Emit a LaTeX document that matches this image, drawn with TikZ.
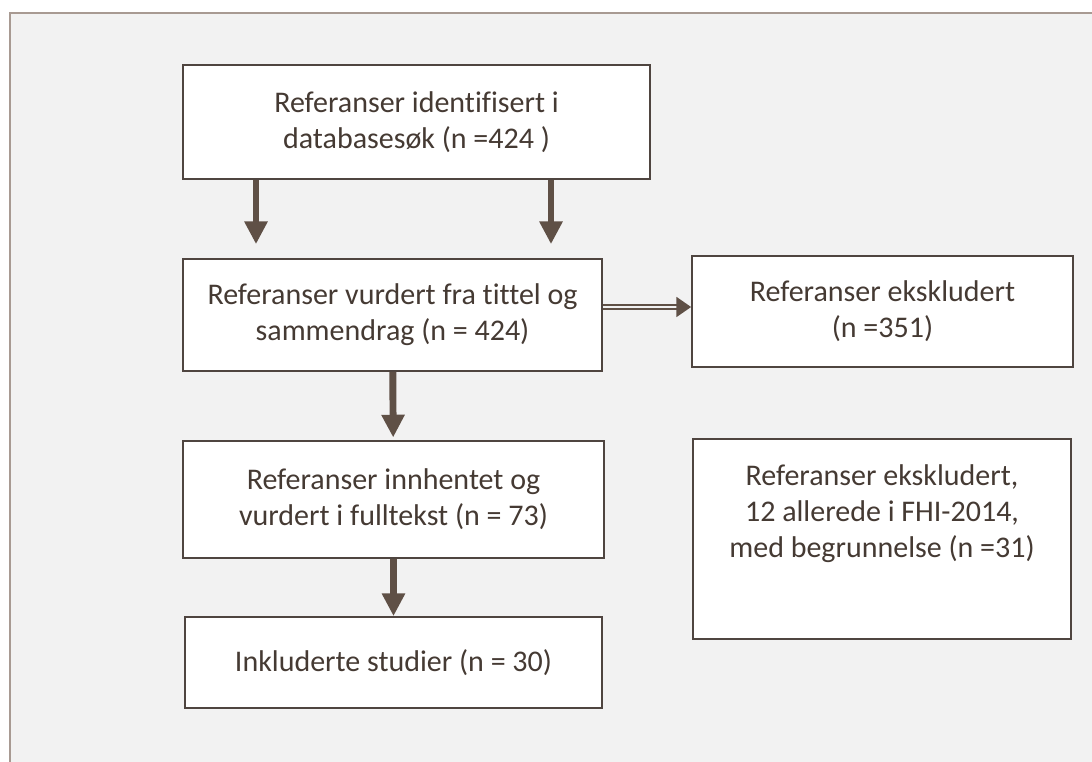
\documentclass[tikz,border=0pt]{standalone}
\usepackage{fontspec}
\setmainfont{Carlito}[Ligatures=NoCommon]
\usetikzlibrary{arrows.meta,positioning}

\definecolor{ramme}{HTML}{A89A92}
\definecolor{bakgrunn}{HTML}{F2F2F2}
\definecolor{kant}{HTML}{4F4540}
\definecolor{pil}{HTML}{5F5046}
\definecolor{tekst}{HTML}{453A33}

\tikzset{
  boks/.style={draw=kant, line width=1.3pt, fill=white, text=tekst, align=center,
    font=\fontsize{22.5}{27}\selectfont, inner sep=0pt},
  bokstekst/.style={text=tekst, align=center, font=\fontsize{22.5}{27}\selectfont, inner sep=0pt},
  pilned/.style={draw=pil, line width=5.2pt, -{Triangle[length=17pt,width=16.5pt]}},
  dobbelpil/.style={draw=pil, line width=1pt, double=bakgrunn, double distance=1.9pt,
    -{Triangle[length=11pt,width=15pt]}}
}

\begin{document}
\begin{tikzpicture}[x=0.75pt,y=-0.75pt]
    \useasboundingbox (0,0) rectangle (1092,762);

    % Ramme
    \draw[ramme, line width=1.5pt, fill=bakgrunn] (10,13) rectangle (1120,790);

    % Bokser
    \node[boks, minimum width=350.3pt, minimum height=85.5pt] (b1) at (416.5,122)
        {Referanser identifisert i\\databasesøk (n =424 )};
    \node[boks, minimum width=314.3pt, minimum height=84pt] (b2) at (392.5,315)
        {Referanser vurdert fra tittel og\\sammendrag (n = 424)};
    \node[boks, minimum width=285.8pt, minimum height=83.3pt] (b3) at (882.5,311.5)
        {Referanser ekskludert\\(n =351)};
    \node[boks, minimum width=283.5pt, minimum height=150pt] (b4) at (882,539) {};
    \node[bokstekst] (t4) at (882,514)
        {Referanser ekskludert,\\12 allerede i FHI-2014,\\med begrunnelse (n =31)};
    \node[boks, minimum width=315.8pt, minimum height=87.8pt] (b5) at (393.5,499.5)
        {Referanser innhentet og\\vurdert i fulltekst (n = 73)};
    \node[boks, minimum width=312.8pt, minimum height=68.3pt] (b6) at (393.5,662.5)
        {Inkluderte studier (n = 30)};

    % Piler
    \coordinate (venstre) at (256,0);
    \coordinate (hoyre) at (551,0);
    \coordinate (midt) at (0,307);
    \draw[pilned, shorten >=10.5pt] (b1.south -| venstre) -- (b2.north -| venstre);
    \draw[pilned, shorten >=10.5pt] (b1.south -| hoyre) -- (b2.north -| hoyre);
    \draw[pilned, shorten >=2pt] (b2) -- (b5);
    \draw[pilned] (b5) -- (b6);
    \draw[dobbelpil] (b2.east |- midt) -- (b3.west |- midt);
\end{tikzpicture}
\end{document}
